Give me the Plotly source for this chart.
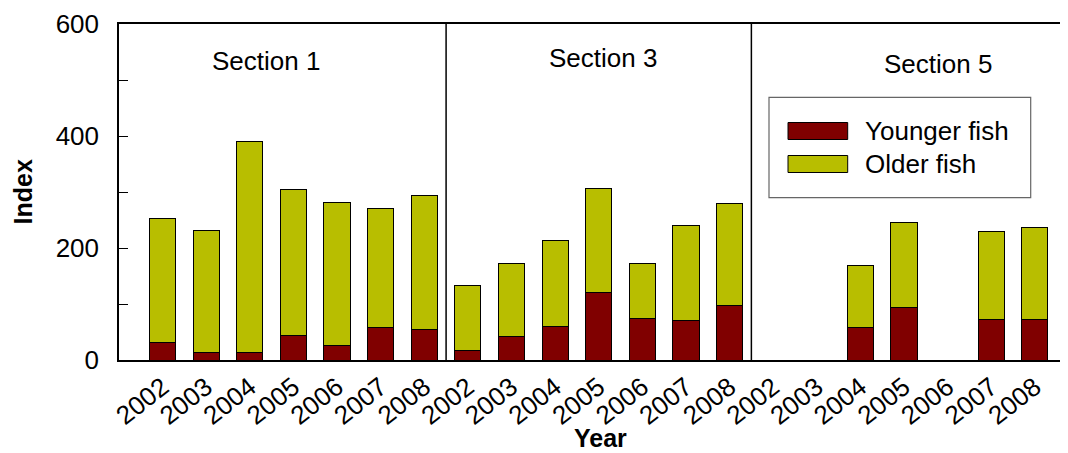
import plotly.graph_objects as go

years = ["2002", "2003", "2004", "2005", "2006", "2007", "2008"]
sections = ["Section 1", "Section 3", "Section 5"]

younger_s1 = [32, 14, 14, 44, 26, 58, 54]
total_s1 = [252, 232, 391, 305, 282, 271, 294]
younger_s3 = [17, 42, 60, 120, 74, 70, 98]
total_s3 = [133, 173, 213, 307, 172, 240, 280]
younger_s5 = [None, None, 58, 94, None, 72, 72]
total_s5 = [None, None, 168, 246, None, 230, 237]

younger = younger_s1 + younger_s3 + younger_s5
total = total_s1 + total_s3 + total_s5
older = [None if (t is None or y is None) else t - y for t, y in zip(total, younger)]

n = len(years)
xpos = list(range(3 * n))
ticktext = years * 3

C_YOUNG = "#800000"
C_OLD = "#B8BE00"
FONT = "Liberation Sans, Arial, sans-serif"

fig = go.Figure()
fig.add_trace(go.Bar(x=xpos, y=younger, name="Younger fish", width=0.6,
                     marker=dict(color=C_YOUNG, line=dict(color="black", width=1))))
fig.add_trace(go.Bar(x=xpos, y=older, name="Older fish", width=0.6,
                     marker=dict(color=C_OLD, line=dict(color="black", width=1))))

# page has an 8px body margin; figure coordinates = page coordinates - 8
OFF = 8
W, H = 1068 - OFF, 453 - OFF
L, R, T, B = 119 - OFF, 0, 24 - OFF, 93
pw, ph = W - L - R, H - T - B

def px2paper(x, y):
    # x, y in page pixels
    x -= OFF
    y -= OFF
    return (x - L) / pw, (H - B - y) / ph

# section dividers
for k in range(1, 3):
    fig.add_shape(type="line", x0=k * n - 0.5, x1=k * n - 0.5, y0=0, y1=1,
                  xref="x", yref="paper", line=dict(color="black", width=1.5))

# section labels
sec_x = [2.36, 10.09, 17.78]
sec_y = [534, 539, 528]
for s, sx, sy in zip(sections, sec_x, sec_y):
    fig.add_annotation(x=sx, y=sy, xref="x", yref="y", text=s, showarrow=False,
                       font=dict(size=26, family=FONT, color="black"))

# custom legend
bx0, by0 = px2paper(769, 97.3)
bx1, by1 = px2paper(1030.7, 197.7)
fig.add_shape(type="rect", xref="paper", yref="paper", x0=bx0, x1=bx1, y0=by1, y1=by0,
              line=dict(color="#666666", width=1.2), fillcolor="white", layer="above")
for name, col, yc in [("Younger fish", C_YOUNG, 131), ("Older fish", C_OLD, 164)]:
    sx0, sy0 = px2paper(788, yc - 8.5)
    sx1, sy1 = px2paper(847.7, yc + 8.5)
    fig.add_shape(type="rect", xref="paper", yref="paper", x0=sx0, x1=sx1, y0=sy1, y1=sy0,
                  line=dict(color="black", width=1), fillcolor=col, layer="above")
    tx, ty = px2paper(863, yc)
    fig.add_annotation(x=tx, y=ty, xref="paper", yref="paper", text=name, showarrow=False,
                       xanchor="left", yanchor="middle",
                       font=dict(size=26, family=FONT, color="black"))

# axis titles as annotations (precise placement)
yx, yy = px2paper(600, 438)
fig.add_annotation(x=yx, y=yy, xref="paper", yref="paper", text="<b>Year</b>",
                   showarrow=False, xanchor="center", yanchor="middle",
                   font=dict(size=25, family=FONT, color="black"))
ix, iy = px2paper(22.5, 192)
fig.add_annotation(x=ix, y=iy, xref="paper", yref="paper", text="<b>Index</b>",
                   showarrow=False, xanchor="center", yanchor="middle", textangle=-90,
                   font=dict(size=25, family=FONT, color="black"))

fig.update_layout(
    width=W, height=H,
    margin=dict(l=L, r=R, t=T, b=B, autoexpand=False),
    barmode="stack",
    plot_bgcolor="white", paper_bgcolor="white",
    showlegend=False,
    font=dict(family=FONT, size=26, color="black"),
    xaxis=dict(range=[-1, 20.76], tickvals=xpos, ticktext=ticktext, tickangle=-38,
               ticks="", showline=True, linecolor="black", linewidth=1.5, mirror=True,
               showgrid=False, zeroline=False, tickfont=dict(size=26)),
    yaxis=dict(range=[0, 600], tickvals=[0, 100, 200, 300, 400, 500, 600],
               ticktext=["0", "", "200", "", "400", "", "600"],
               ticks="inside", ticklen=9, tickcolor="black", tickwidth=1,
               ticklabelstandoff=13, tickfont=dict(size=26),
               showline=True, linecolor="black", linewidth=1.5, showgrid=False, zeroline=False),
)

fig.write_html("out.html")
